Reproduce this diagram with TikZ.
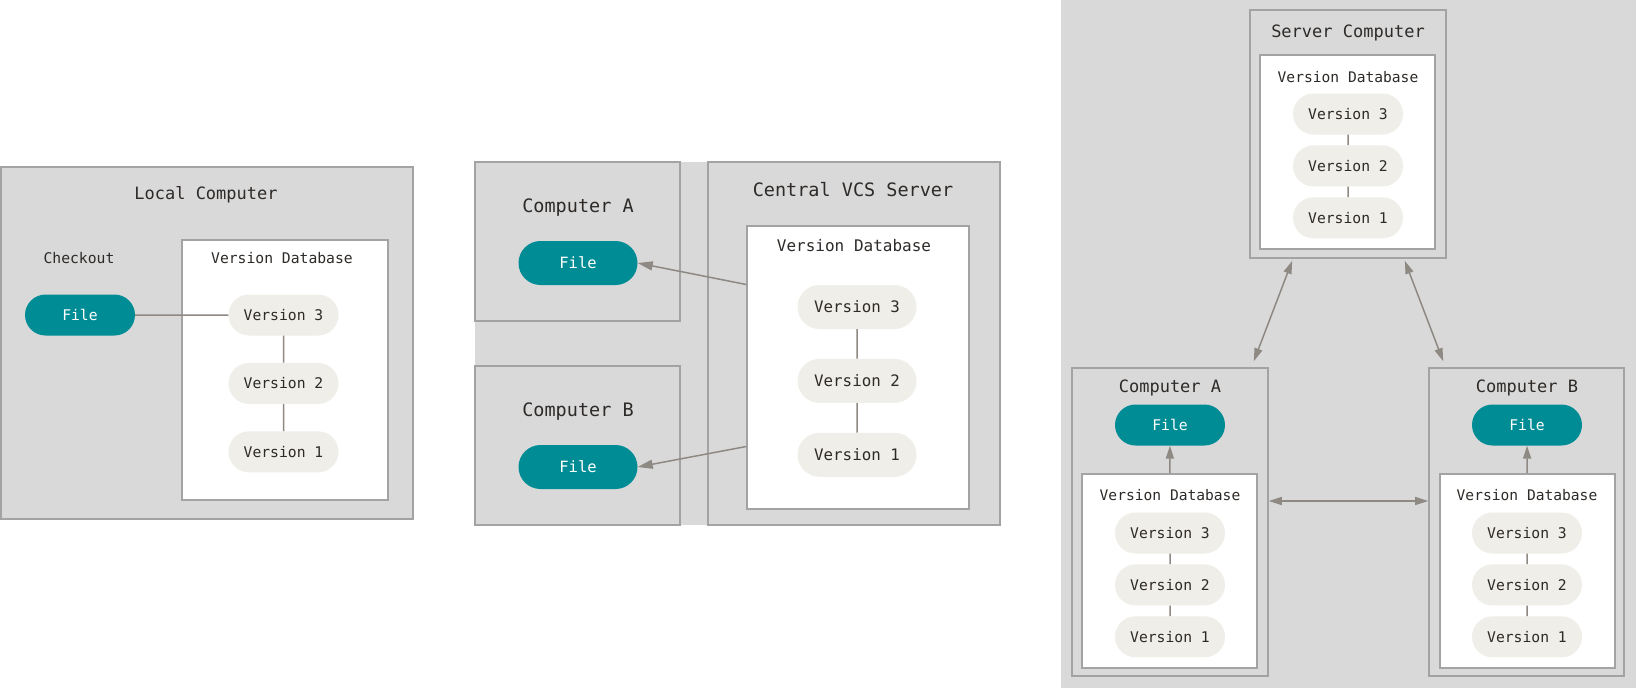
\documentclass[tikz,border=0pt]{standalone}
\usepackage{fontspec}
\setmonofont{DejaVu Sans Mono}
\usepackage{tikz}
\usetikzlibrary{arrows.meta, calc, positioning, shapes.misc}
\definecolor{boxfill}{HTML}{D9D9D9}
\definecolor{boxline}{HTML}{A3A3A3}
\definecolor{filefill}{HTML}{008C95}
\definecolor{pillfill}{HTML}{EFEEE8}
\definecolor{ink}{HTML}{2E2A27}
\definecolor{wire}{HTML}{8E8983}
\tikzset{%
    edge/.style={%
        ->,
        draw=wire,
        line width=1.5pt,
    },
    dedge/.style={%
        <->,
        draw=wire,
        line width=1.5pt,
    },
    link/.style={%
        draw=wire,
        line width=1.5pt,
    },
    machine/.style={%
        rectangle,
        fill=boxfill,
        draw=boxline,
        line width=1.6pt,
        inner sep=0pt,
    },
    database/.style={%
        rectangle,
        fill=white,
        draw=boxline,
        line width=1.6pt,
        inner sep=0pt,
    },
    title/.style={%
        text=ink,
        font=\ttfamily\fontsize{#1}{#1}\selectfont,
    },
    title/.default=17,
    file/.style={%
        rounded rectangle,
        fill=filefill,
        text=white,
        font=\ttfamily\fontsize{#1}{#1}\selectfont,
        minimum width=110pt,
        minimum height=41pt,
        inner sep=0pt,
    },
    file/.default=14.7,
    version/.style={%
        rounded rectangle,
        fill=pillfill,
        text=ink,
        font=\ttfamily\fontsize{#1}{#1}\selectfont,
        minimum width=110pt,
        minimum height=41pt,
        inner sep=0pt,
    },
    version/.default=14.7,
}

\begin{document}
\begin{tikzpicture}[x=1pt, y=-1pt, >={Triangle[length=15pt, width=9pt]}]
	\useasboundingbox (0,0) rectangle (1636,688);

	% local
	\node [machine, minimum width=412pt, minimum height=352pt] at (207,343) (local) {};
	\node [title] at (206,195) (local_title) {Local Computer};
	\node [database, minimum width=206pt, minimum height=260pt] at (285,370) (local_db) {};
	\node [title=14.7] at (282,258) (local_db_title) {Version Database};
	\node [title=14.7] at (79,258) (checkout) {Checkout};
	\node [file] at (80,315) (local_file) {File};
	\node [version] at (283.5,315) (local_v3) {Version 3};
	\node [version, below=27pt of local_v3] (local_v2) {Version 2};
	\node [version, below=27pt of local_v2] (local_v1) {Version 1};

	\draw[link] (local_file) -- (local_v3);
	\draw[link] (local_v3) -- (local_v2);
	\draw[link] (local_v2) -- (local_v1);

	% centralized
	\begin{scope}[file/.append style={minimum width=119pt, minimum height=44pt},
		version/.append style={minimum width=119pt, minimum height=44pt}]
	\node [machine, draw=none, minimum width=525pt, minimum height=363pt] at (737.5,343.5) (cvcs_bg) {};
	\node [machine, minimum width=205pt, minimum height=159pt] at (577.5,241.5) (cvcs_a) {};
	\node [machine, minimum width=205pt, minimum height=159pt] at (577.5,445.5) (cvcs_b) {};
	\node [machine, minimum width=292pt, minimum height=363pt] at (854,343.5) (central) {};
	\node [title=18.5] at (853,190) (central_title) {Central VCS Server};
	\node [database, minimum width=222pt, minimum height=283pt] at (858,367.5) (central_db) {};
	\node [title=16] at (854,246) (central_db_title) {Version Database};
	\node [version=15.8] at (857,307) (central_v3) {Version 3};
	\node [version=15.8, below=29.5pt of central_v3] (central_v2) {Version 2};
	\node [version=15.8, below=29.5pt of central_v2] (central_v1) {Version 1};

	\node [title=18.5] at (578,208) (cvcs_a_title) {Computer A};
	\node [file=15.5] at (578,263) (cvcs_a_file) {File};
	\node [title=18.5] at (578,412) (cvcs_b_title) {Computer B};
	\node [file=15.5] at (578,467) (cvcs_b_file) {File};
	\end{scope}

	\draw[link] (central_v3) -- (central_v2);
	\draw[link] (central_v2) -- (central_v1);
	\draw[edge] ($(central_db.west) + (0,-83)$) -- (cvcs_a_file.east);
	\draw[edge] ($(central_db.west) + (0,79)$) -- (cvcs_b_file.east);

	% distributed
	\begin{scope}[>={Triangle[length=13pt, width=8pt]}]
	\node [machine, draw=none, minimum width=575pt, minimum height=688pt] at (1348.5,344) (dvcs_bg) {};
	\node [machine, minimum width=196pt, minimum height=248pt] at (1348,134) (server) {};
	\node [title] at (1348,33) (server_title) {Server Computer};
	\node [database, minimum width=175pt, minimum height=194pt] at (1347.5,152) (server_db) {};
	\node [title=14.6] at (1348,77) (server_db_title) {Version Database};
	\node [version] at (1348,114) (server_v3) {Version 3};
	\node [version, below=10.5pt of server_v3] (server_v2) {Version 2};
	\node [version, below=10.5pt of server_v2] (server_v1) {Version 1};

	\node [machine, minimum width=196pt, minimum height=308pt] at (1170,522) (dvcs_a) {};
	\node [title] at (1170,388) (dvcs_a_title) {Computer A};
	\node [file] at (1170,425) (dvcs_a_file) {File};
	\node [database, minimum width=175pt, minimum height=194pt] at (1169.5,571) (dvcs_a_db) {};
	\node [title=14.6] at (1170,495) (dvcs_a_db_title) {Version Database};
	\node [version] at (1170,533) (dvcs_a_v3) {Version 3};
	\node [version, below=10.5pt of dvcs_a_v3] (dvcs_a_v2) {Version 2};
	\node [version, below=10.5pt of dvcs_a_v2] (dvcs_a_v1) {Version 1};

	\node [machine, minimum width=195pt, minimum height=308pt] at (1526.5,522) (dvcs_b) {};
	\node [title] at (1527,388) (dvcs_b_title) {Computer B};
	\node [file] at (1527,425) (dvcs_b_file) {File};
	\node [database, minimum width=175pt, minimum height=194pt] at (1527.5,571) (dvcs_b_db) {};
	\node [title=14.6] at (1527,495) (dvcs_b_db_title) {Version Database};
	\node [version] at (1527,533) (dvcs_b_v3) {Version 3};
	\node [version, below=10.5pt of dvcs_b_v3] (dvcs_b_v2) {Version 2};
	\node [version, below=10.5pt of dvcs_b_v2] (dvcs_b_v1) {Version 1};

	\draw[link] (server_v3) -- (server_v2);
	\draw[link] (server_v2) -- (server_v1);
	\draw[link] (dvcs_a_v3) -- (dvcs_a_v2);
	\draw[link] (dvcs_a_v2) -- (dvcs_a_v1);
	\draw[link] (dvcs_b_v3) -- (dvcs_b_v2);
	\draw[link] (dvcs_b_v2) -- (dvcs_b_v1);

	\draw[edge] (dvcs_a_db) -- (dvcs_a_file);
	\draw[edge] (dvcs_b_db) -- (dvcs_b_file);
	\draw[dedge] ($(server.south west) + (43,2)$) -- ($(dvcs_a.north east) + (-15,-6)$);
	\draw[dedge] ($(server.south east) + (-42,2)$) -- ($(dvcs_b.north west) + (15,-6)$);
	\draw[dedge] ($(dvcs_a.east) + (0,-21)$) -- ($(dvcs_b.west) + (0,-21)$);
	\end{scope}
\end{tikzpicture}
\end{document}
